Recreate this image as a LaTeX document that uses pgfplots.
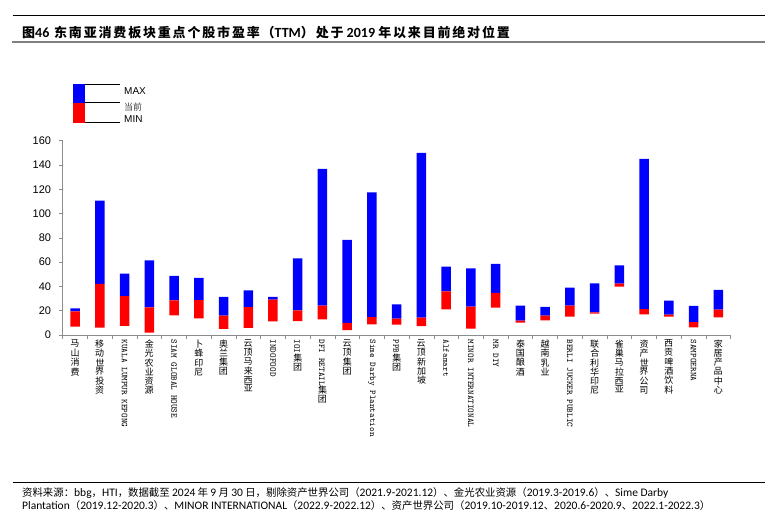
\documentclass[border=0pt]{standalone}
\usepackage{pgfplots}
\pgfplotsset{compat=1.18}
\usepackage{pgfplotstable}
\usepackage{graphicx}
\usepackage{fontspec}
\setmainfont{Liberation Sans}
\newfontfamily\cjk{Noto Sans CJK SC}
\newfontfamily\cjkT{Noto Sans CJK SC}[LetterSpace=14]
\newfontfamily\carl{Carlito}

\newcommand\U[1]{\rotatebox[origin=c]{90}{#1}\kern1.2pt}
\def\V#1{{\cjk\fontsize{9}{9}\selectfont\Vx#1\relax}}
\def\Vx#1{\ifx#1\relax\else\U{#1}\expandafter\Vx\fi}
\newcommand\M[1]{{\ttfamily\fontsize{8.8}{9}\selectfont #1}}
\newcommand\F[1]{{\carl\fontsize{11.5}{11.5}\selectfont #1}}
\newcommand\TL[1]{{\carl\bfseries\fontsize{14}{14}\selectfont #1}}

\pgfplotstableread{
x  min   cur   max
0  7.0   19.5  22.0
1  6.0   42.0  110.6
2  7.5   32.0  50.5
3  2.0   22.8  61.5
4  16.2  28.5  48.6
5  13.7  28.8  47.0
6  5.0   15.9  31.3
7  5.8   23.0  36.8
8  11.2  29.1  31.3
9  11.5  20.3  63.1
10 12.9  24.2  136.7
11 4.1   9.9   78.3
12 8.8   14.8  117.5
13 8.5   13.5  25.3
14 7.4   14.3  150.0
15 21.2  36.0  56.3
16 5.2   23.3  54.9
17 22.5  34.6  58.5
18 10.2  11.8  24.2
19 12.1  15.9  23.1
20 15.1  24.2  39.0
21 17.6  18.7  42.5
22 39.8  42.3  57.4
23 17.0  21.4  145.0
24 15.1  16.7  28.3
25 6.3   10.7  23.9
26 14.6  20.8  37.1
}\data

\begin{document}
\begin{tikzpicture}
\useasboundingbox (0pt,0pt) rectangle (765pt,512pt);
\fill[white] (0pt,0pt) rectangle (765pt,512pt);
\begin{axis}[
  at={(62.7pt,177pt)}, anchor=south west,
  scale only axis, width=668pt, height=194.3pt,
  xmin=-0.5, xmax=26.5, ymin=0, ymax=160,
  ybar stacked, bar width=9.5pt,
  separate axis lines,
  axis x line*=bottom, axis y line*=left,
  axis line style={-, draw=black!45, line width=0.6pt},
  xtick={0,...,26},
  xticklabels={\V{马山消费},\V{移动世界投资},\M{KUALA LUMPUR KEPONG},\V{金光农业资源},\M{SIAM GLOBAL HOUSE},\V{卜蜂印尼},\V{奥兰集团},\V{云顶马来西亚},\M{INDOFOOD},\M{IOI}\V{集团},\M{DFI RETAIL}\V{集团},\V{云顶集团},\M{Sime Darby Plantation},\M{PPB}\V{集团},\V{云顶新加坡},\M{Alfamart},\M{MINOR INTERNATIONAL},\M{MR DIY},\V{泰国酿酒},\V{越南乳业},\M{BERLI JUCKER PUBLIC},\V{联合利华印尼},\V{雀巢马拉西亚},\V{资产世界公司},\V{西贡啤酒饮料},\M{SAMPOERNA},\V{家居产品中心}},
  ytick={0,20,...,160},
  minor xtick={-0.5,0.5,...,26.5},
  minor ytick={0,20,...,160},
  major tick length=0pt, minor tick length=3.5pt, tick align=outside,
  tick style={draw=black!45, line width=0.6pt},
  xticklabel style={yshift=-4.5pt, rotate=-90, anchor=west, inner sep=0pt},
  yticklabel style={font=\fontsize{11}{11}\selectfont, inner sep=0pt, xshift=-11.5pt},
  /pgf/number format/assume math mode=true,
]
\addplot[draw=none, fill=none, forget plot] table[x=x, y=min] \data;
\addplot[fill=red, draw=none] table[x=x, y expr=\thisrow{cur}-\thisrow{min}] \data;
\addplot[fill=blue, draw=none] table[x=x, y expr=\thisrow{max}-\thisrow{cur}] \data;
\end{axis}

% legend
\fill[blue] (73.3pt,427.7pt) rectangle (85.3pt,408.7pt);
\fill[red] (73.3pt,408.7pt) rectangle (85.3pt,389.3pt);
\draw[black, line width=0.7pt] (85.3pt,427.4pt) -- (120pt,427.4pt);
\draw[black, line width=0.7pt] (85.3pt,409.7pt) -- (120pt,409.7pt);
\draw[black, line width=0.7pt] (85.3pt,389.7pt) -- (120pt,389.7pt);
\node[anchor=west, inner sep=0pt, font=\fontsize{10}{10}\selectfont] at (124pt,421pt) {MAX};
\node[anchor=west, inner sep=0pt, font=\cjk\fontsize{9}{9}\selectfont, text=black!75] at (124pt,405.3pt) {当前};
\node[anchor=west, inner sep=0pt, font=\fontsize{10}{10}\selectfont] at (124pt,392.7pt) {MIN};

% title block
\draw[black, line width=1pt] (12.7pt,496.7pt) -- (765pt,496.7pt);
\draw[black!50, line width=2pt] (12pt,470pt) -- (765pt,470pt);
\node[anchor=west, inner sep=0pt, font=\cjkT\bfseries\fontsize{13}{13}\selectfont] at (22pt,480pt)
  {图\TL{46} 东南亚消费板块重点个股市盈率（\TL{TTM}）处于\TL{ 2019 }年以来目前绝对位置};

% footer
\draw[black, line width=0.6pt] (12.7pt,29.7pt) -- (765pt,29.7pt);
\node[anchor=west, inner sep=0pt, font=\cjk\fontsize{10.4}{10.4}\selectfont] at (22pt,19.3pt)
  {资料来源：\F{bbg}，\F{HTI}，数据截至 \F{2024} 年 \F{9} 月 \F{30} 日，剔除资产世界公司（\F{2021.9-2021.12}）、金光农业资源（\F{2019.3-2019.6}）、\F{Sime Darby}};
\node[anchor=west, inner sep=0pt, font=\cjk\fontsize{10.4}{10.4}\selectfont] at (22pt,6pt)
  {\F{Plantation}（\F{2019.12-2020.3}）、\F{MINOR INTERNATIONAL}（\F{2022.9-2022.12}）、资产世界公司（\F{2019.10-2019.12}、\F{2020.6-2020.9}、\F{2022.1-2022.3}）};
\end{tikzpicture}
\end{document}
